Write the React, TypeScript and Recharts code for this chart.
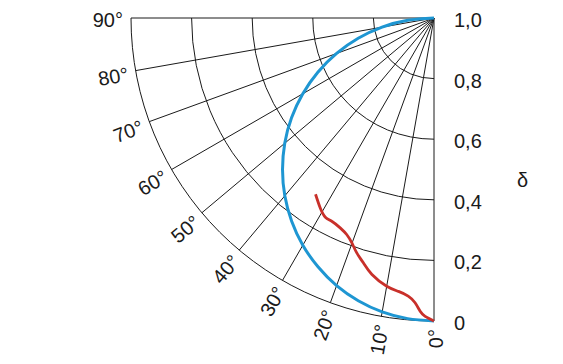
import React from 'react';
import { RadarChart, PolarGrid, PolarAngleAxis, PolarRadiusAxis, Radar, Curve } from 'recharts';

// Lambertian reference curve (blue): angle in degrees, relative intensity
const blueAngles = [0, 5, 10, 15, 20, 25, 30, 35, 40, 45, 50, 55, 60, 65, 70, 75, 80, 85, 90];
const blueValues = [1.0, 0.996, 0.985, 0.966, 0.94, 0.906, 0.866, 0.819, 0.766, 0.707, 0.643, 0.574, 0.5, 0.423, 0.342, 0.259, 0.174, 0.087, 0.0];

// Measured curve (red)
const redAngles = [0, 1.7, 2.7, 3.8, 5.3, 7.4, 10.0, 13.6, 16.1, 18.2, 20.0, 21.9, 24.0, 26.6, 28.6, 30.9, 33.9];
const redValues = [1.0, 0.985, 0.969, 0.942, 0.922, 0.91, 0.899, 0.871, 0.841, 0.816, 0.791, 0.771, 0.759, 0.751, 0.749, 0.731, 0.701];

const angleDomain = [0, 90];
const angleTickCount = 10;
const radiusDomain = [0, 1];
const radiusTicks = [0, 0.2, 0.4, 0.6, 0.8, 1.0];
const axisTitle = 'δ';

const W = 555;
const H = 348;
const CX = 426;
const CY = 10;
const R = 303;
const FONT = '"Liberation Sans", Arial, sans-serif';
const INK = '#1a1a1a';
const BLUE = '#1e96d2';
const RED = '#c8302a';

function buildRows() {
  const map = new Map<number, any>();
  blueAngles.forEach((a, i) => {
    const row = map.get(a) ?? { angle: a };
    row.blue = blueValues[i];
    map.set(a, row);
  });
  redAngles.forEach((a, i) => {
    const row = map.get(a) ?? { angle: a };
    row.red = redValues[i];
    map.set(a, row);
  });
  return Array.from(map.values()).sort((p, q) => p.angle - q.angle);
}

const rows = buildRows();

const makeShape = (color: string, type: any, width: number) => (props: any) => {
  const pts = (props.points || []).filter(
    (p: any) => p.value != null && Number.isFinite(p.x) && Number.isFinite(p.y)
  );
  return <Curve type={type} points={pts} stroke={color} strokeWidth={width} fill="none" />;
};

const hiddenShape = () => <g />;

const AngleTick = (props: any) => {
  const { x, y, payload } = props;
  const v = Number(payload.value);
  return (
    <text
      x={x}
      y={y}
      dy={9}
      textAnchor="end"
      transform={`rotate(${v - 90}, ${x}, ${y})`}
      fontFamily={FONT}
      fontSize={20}
      fill={INK}
    >
      {`${v}°`}
    </text>
  );
};

const NoTick = () => <g />;

const RadiusTick = (props: any) => {
  const { x, y, payload } = props;
  const v = Number(payload.value);
  const label = v === 0 ? '0' : v.toFixed(1).replace('.', ',');
  return (
    <text x={x + 20} y={y} dy={9} textAnchor="start" fontFamily={FONT} fontSize={20} fill={INK}>
      {label}
    </text>
  );
};

export default function App() {
  return (
    <div style={{ position: 'relative', width: W, height: H }}>
      <style>{`.recharts-polar-grid circle { clip-path: url(#quarterClip); }`}</style>
      <svg width={0} height={0} style={{ position: 'absolute', left: 0, top: 0 }}>
        <defs>
          <clipPath id="quarterClip" clipPathUnits="userSpaceOnUse">
            <rect x={CX - R - 3} y={CY} width={R + 3} height={R + 3} />
          </clipPath>
        </defs>
      </svg>
      <RadarChart
        width={W}
        height={H}
        data={rows}
        cx={CX}
        cy={CY}
        innerRadius={0}
        outerRadius={R}
        startAngle={270}
        endAngle={180}
        margin={{ top: 0, right: 0, bottom: 0, left: 0 }}
      >
        <PolarGrid gridType="circle" stroke={INK} strokeWidth={1} />
        <PolarAngleAxis
          dataKey="angle"
          type="number"
          domain={angleDomain}
          tickCount={angleTickCount}
          axisLine={false}
          tickLine={false}
          tickSize={8}
          tick={AngleTick}
        />
        <PolarRadiusAxis
          radiusAxisId={0}
          angle={270}
          type="number"
          domain={radiusDomain}
          ticks={radiusTicks}
          tickCount={radiusTicks.length}
          axisLine={false}
          tick={NoTick}
        />
        <PolarRadiusAxis
          radiusAxisId="lbl"
          angle={270}
          type="number"
          domain={radiusDomain}
          ticks={radiusTicks}
          tickCount={radiusTicks.length}
          reversed
          axisLine={false}
          tick={RadiusTick}
        />
        <Radar
          dataKey="blue"
          radiusAxisId="lbl"
          stroke="none"
          fill="none"
          isAnimationActive={false}
          dot={false}
          legendType="none"
          shape={hiddenShape}
        />
        <Radar
          dataKey="blue"
          stroke={BLUE}
          fill="none"
          isAnimationActive={false}
          dot={false}
          shape={makeShape(BLUE, 'natural', 3)}
        />
        <Radar
          dataKey="red"
          stroke={RED}
          fill="none"
          isAnimationActive={false}
          dot={false}
          shape={makeShape(RED, 'natural', 2.8)}
        />
      </RadarChart>
      <svg
        width={W}
        height={H}
        style={{ position: 'absolute', left: 0, top: 0, pointerEvents: 'none' }}
      >
        <text x={509} y={179} fontFamily={FONT} fontSize={20} fill={INK}>
          {axisTitle}
        </text>
      </svg>
    </div>
  );
}
